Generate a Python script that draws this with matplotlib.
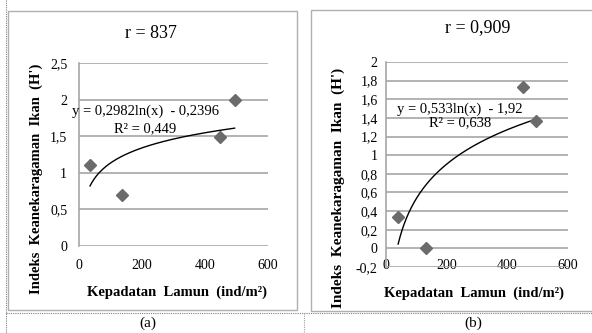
import matplotlib
matplotlib.use('Agg')
import matplotlib.pyplot as plt
import numpy as np
from matplotlib.lines import Line2D
from matplotlib.patches import Rectangle

plt.rcParams['font.family'] = ['Liberation Serif', 'DejaVu Serif']

# ---------------- data ----------------
xticks = [0, 200, 400, 600]
xticklabels = ["0", "200", "400", "600"]

density_a = [35, 135, 448, 494]
diversity_a = [1.10, 0.70, 1.49, 1.99]
coef_a = (0.2982, -0.2396)
title_a = "r = 837"
eq_a = "y = 0,2982ln(x)  - 0,2396"
r2_a = "R² = 0,449"
yticks_a = [0, 0.5, 1, 1.5, 2, 2.5]
yticklabels_a = ["0", "0,5", "1", "1,5", "2", "2,5"]

density_b = [40, 132, 451, 494]
diversity_b = [0.34, 0.00, 1.73, 1.37]
coef_b = (0.533, -1.92)
title_b = "r = 0,909"
eq_b = "y = 0,533ln(x)  - 1,92"
r2_b = "R² = 0,638"
yticks_b = [-0.2, 0, 0.2, 0.4, 0.6, 0.8, 1, 1.2, 1.4, 1.6, 1.8, 2]
yticklabels_b = ["-0,2", "0", "0,2", "0,4", "0,6", "0,8", "1", "1,2", "1,4", "1,6", "1,8", "2"]

xlabel = "Kepadatan  Lamun  (ind/m²)"
ylabel = "Indeks  Keanekaragaman  Ikan  (H')"
panel_labels = ["(a)", "(b)"]

# ---------------- layout ----------------
W, H = 592, 333
fig = plt.figure(figsize=(W / 100, H / 100), dpi=100)


def fx(x):
    return x / W


def fy(y):
    return 1 - y / H


GRID = '#a6a6a6'
MARK = '#6b6b6b'

# chart frames
fig.add_artist(Rectangle((fx(7.5), fy(310)), fx(297) - fx(7.5), fy(11) - fy(310),
                         transform=fig.transFigure, fill=False, ec='#b0b0b0', lw=1.0))
fig.add_artist(Rectangle((fx(311), fy(311)), fx(600) - fx(311), fy(10) - fy(311),
                         transform=fig.transFigure, fill=False, ec='#b0b0b0', lw=1.0))

# page table dotted lines
fig.add_artist(Line2D([fx(6), fx(592)], [fy(313), fy(313)], transform=fig.transFigure,
                      color='#808080', lw=0.8, ls=(0, (1, 1))))
fig.add_artist(Line2D([fx(6), fx(6)], [fy(0), fy(333)], transform=fig.transFigure,
                      color='#808080', lw=0.8, ls=(0, (1, 1))))
fig.add_artist(Line2D([fx(304), fx(304)], [fy(313), fy(333)], transform=fig.transFigure,
                      color='#a0a0a0', lw=0.8, ls=(0, (1, 1))))


def make_panel(rect, xs, ys, coef, yticks, yticklabels, ylim, xpad, ypad):
    ax = fig.add_axes(rect)
    ax.set_xlim(0, 600)
    ax.set_ylim(*ylim)
    ax.set_yticks(yticks)
    ax.set_yticklabels(yticklabels)
    ax.set_xticks(xticks)
    ax.set_xticklabels(xticklabels)
    ax.tick_params(length=0, labelsize=10, colors='black')
    ax.tick_params(axis='x', pad=xpad)
    ax.tick_params(axis='y', pad=ypad)
    ax.yaxis.grid(True, color=GRID, lw=1.2)
    ax.xaxis.grid(False)
    ax.set_axisbelow(True)
    for s in ['top', 'right', 'bottom']:
        ax.spines[s].set_visible(False)
    ax.spines['left'].set_color(GRID)
    ax.spines['left'].set_linewidth(1.2)
    ax.patch.set_alpha(0)
    a, b = coef
    xx = np.linspace(min(xs), max(xs), 200)
    ax.plot(xx, a * np.log(xx) + b, color='black', lw=1.0, zorder=3)
    ax.plot(xs, ys, ls='none', marker='D', ms=6.5, color=MARK, mec=MARK, zorder=4)
    return ax


ax_a = make_panel([fx(79), fy(246), fx(268) - fx(79), fy(63) - fy(246)],
                  density_a, diversity_a, coef_a, yticks_a, yticklabels_a, (0, 2.5),
                  xpad=9.5, ypad=8.5)
ax_b = make_panel([fx(386), fy(267), fx(568) - fx(386), fy(62) - fy(267)],
                  density_b, diversity_b, coef_b, yticks_b, yticklabels_b, (-0.2, 2),
                  xpad=-5.5, ypad=6)

# trendline equations
ax_a.text(0.352, 0.734, eq_a, transform=ax_a.transAxes, ha='center', va='center', fontsize=10.5)
ax_a.text(0.352, 0.643, r2_a, transform=ax_a.transAxes, ha='center', va='center', fontsize=10.5)
ax_b.text(0.407, 0.770, eq_b, transform=ax_b.transAxes, ha='center', va='center', fontsize=10.5)
ax_b.text(0.407, 0.706, r2_b, transform=ax_b.transAxes, ha='center', va='center', fontsize=10.5)

# titles
fig.text(fx(151), fy(34), title_a, ha='center', va='center', fontsize=13)
fig.text(fx(478), fy(28), title_b, ha='center', va='center', fontsize=13)

# axis labels
fig.text(fx(177), fy(292), xlabel, ha='center', va='center', fontsize=10.5, fontweight='bold')
fig.text(fx(474), fy(293), xlabel, ha='center', va='center', fontsize=10.5, fontweight='bold')
fig.text(fx(36), fy(179), ylabel, ha='center', va='center', rotation=90, fontsize=10.5, fontweight='bold')
fig.text(fx(338), fy(188), ylabel, ha='center', va='center', rotation=90, fontsize=11, fontweight='bold')

# panel labels
fig.text(fx(148), fy(323), panel_labels[0], ha='center', va='center', fontsize=11)
fig.text(fx(473), fy(323), panel_labels[1], ha='center', va='center', fontsize=11)

fig.savefig('out.png', dpi=100)
